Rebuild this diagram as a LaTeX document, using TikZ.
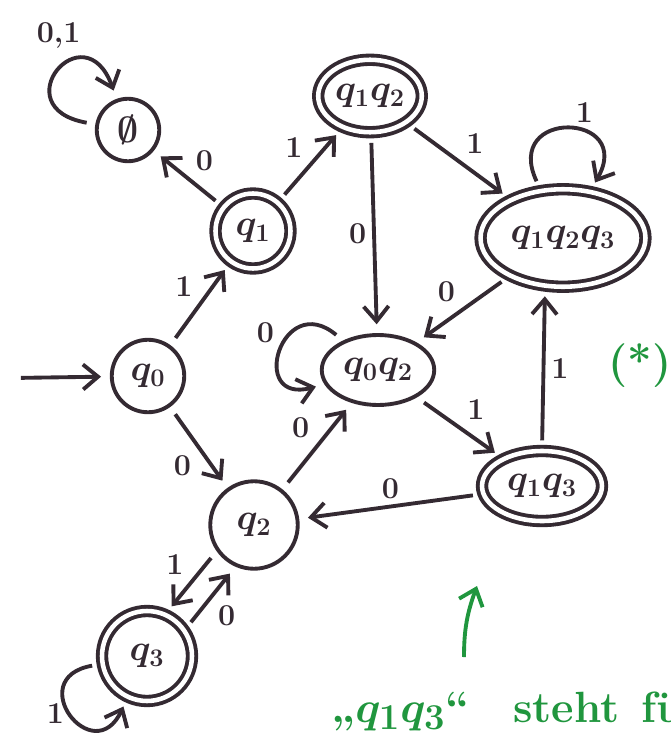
\documentclass[tikz,border=0pt]{standalone}
\usepackage{fontspec}
\usepackage{amssymb}
\usetikzlibrary{shapes.geometric,arrows.meta,positioning}
\definecolor{encre}{RGB}{52,42,50}
\definecolor{vertFeutre}{RGB}{32,150,62}

\begin{document}
\begin{tikzpicture}[x=0.02cm,y=-0.02cm,font=\huge\boldmath,
  etat/.style={circle,draw=encre,line width=2.2pt,text=encre,inner sep=1pt},
  etatlong/.style={ellipse,draw=encre,line width=2.2pt,text=encre,inner sep=1pt},
  final/.style={double,double distance=2.6pt},
  lien/.style={-{Straight Barb[length=3mm,width=5mm]},line width=2.2pt,encre,
               shorten <=5pt,shorten >=5pt},
  etiq/.style={font=\LARGE\bfseries,text=encre},
  note/.style={text=vertFeutre,font=\Huge\bfseries\boldmath},
  lienvert/.style={-{Straight Barb[length=3mm,width=5mm]},line width=2.2pt,vertFeutre}]

  \useasboundingbox (0,0) rectangle (670,740);
  \clip (0,0) rectangle (670,740);

  \node[etat,minimum size=1.25cm] (vide) at (128,130) {$\emptyset$};
  \node[etat,final,minimum size=1.5cm] (q1) at (253,231) {$q_1$};
  \node[etatlong,final,minimum width=1.95cm,minimum height=1.45cm] (q12) at (370,96) {$q_1q_2$};
  \node[etatlong,final,minimum width=3.3cm,minimum height=1.95cm] (q123) at (563,238) {$q_1q_2q_3$};
  \node[etat,minimum size=1.45cm] (q0) at (148,376) {$q_0$};
  \node[etatlong,minimum width=2.25cm,minimum height=1.4cm] (q02) at (378,370) {$q_0q_2$};
  \node[etatlong,final,minimum width=2.4cm,minimum height=1.4cm] (q13) at (542,486) {$q_1q_3$};
  \node[etat,minimum size=1.75cm] (q2) at (254,525) {$q_2$};
  \node[etat,final,minimum size=1.8cm] (q3) at (147,656) {$q_3$};

  \coordinate (depart) at (12,378);
  \draw[lien] (depart) -- (q0);
  \draw[lien] (q0) -- node[etiq,above left] {1} (q1);
  \draw[lien] (q0) -- node[etiq,below left] {0} (q2);
  \draw[lien] (q1) -- node[etiq,above right] {0} (vide);
  \draw[lien] (q1) -- node[etiq,above left] {1} (q12);
  \draw[lien] (q12) -- node[etiq,above right] {1} (q123);
  \draw[lien] (q12) -- node[etiq,left] {0} (q02);
  \draw[lien] (q123) -- node[etiq,above left] {0} (q02);
  \draw[lien] (q02) -- node[etiq,above right] {1} (q13);
  \draw[lien] (q13.north) -- node[etiq,right] {1} (q123.250);
  \draw[lien] (q13) -- node[etiq,above] {0} (q2);
  \draw[lien] (q2) -- node[etiq,above left] {0} (q02);
  \draw[lien] (q2.215) -- node[etiq,above left] {1} (q3.66);
  \draw[lien] (q3.35) -- node[etiq,below right] {0} (q2.246);

  \draw[lien] (vide) to[loop,out=170,in=110,min distance=19mm] node[etiq,above=9pt] {0,1} (vide);
  \draw[lien] (q02) to[loop,out=140,in=195,min distance=16mm] node[etiq,above left] {0} (q02);
  \draw[lien] (q123) to[loop,out=115,in=60,min distance=18mm] node[etiq,above right] {1} (q123);
  \draw[lien] (q3) to[loop,out=190,in=245,min distance=16mm] node[etiq,left] {1} (q3);

  \node[note] (etoile) at (640,366) {(*)};
  \node[note,anchor=base west] (remarque) at (325,722) {„$q_1q_3$“\quad steht\enspace für};
  \coordinate (queue) at (464,657);
  \coordinate (pointe) at (477,586);
  \draw[lienvert] (queue) to[out=90,in=250] (pointe);
\end{tikzpicture}
\end{document}
